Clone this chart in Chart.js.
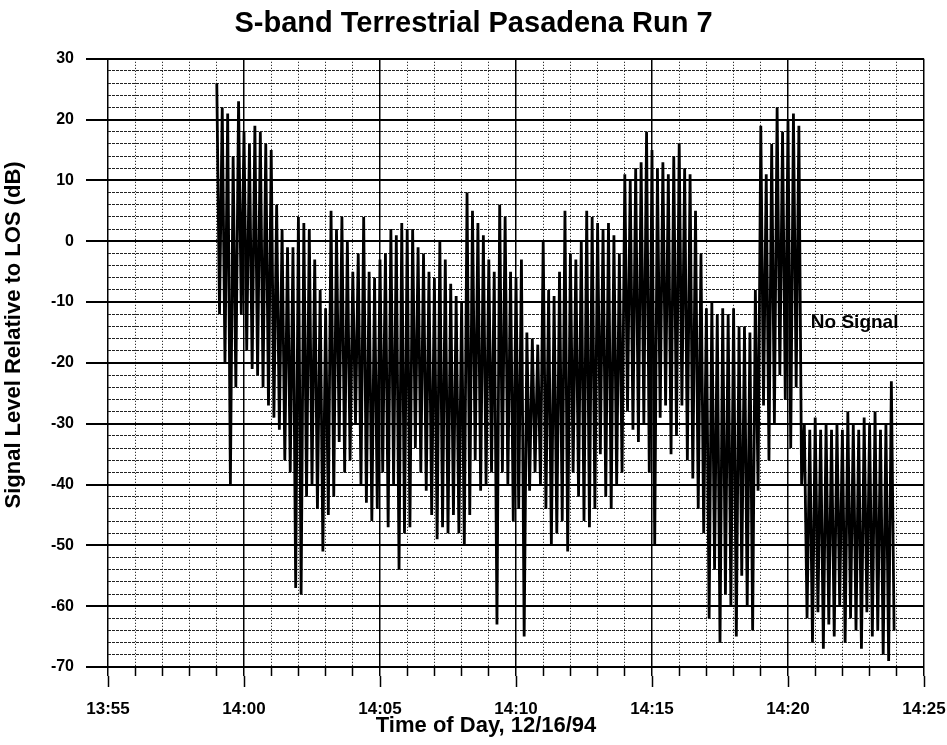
<!DOCTYPE html>
<html>
<head>
<meta charset="utf-8">
<script src="https://cdn.jsdelivr.net/npm/chart.js@4.4.1/dist/chart.umd.min.js"></script>
<style>
  html, body { margin: 0; padding: 0; background: #fff; }
  #chart { display: block; }
</style>
</head>
<body>
<canvas id="chart" width="947" height="745"></canvas>
<script>
// ── Data ───────────────────────────────────────────────────
const chartTitle = 'S-band Terrestrial Pasadena Run 7';
const xAxisTitle = 'Time of Day, 12/16/94';
const yAxisTitle = 'Signal Level Relative to LOS (dB)';
const timeLabels = ['13:55', '14:00', '14:05', '14:10', '14:15', '14:20', '14:25'];   // every 5 min
const noteText = 'No Signal';

// envelope of the trace, one pair per 0.2 min, starting 13:59:00 (minutes after 13:55)
const sampleStart = 4.0;
const sampleStep = 0.2;
const peaks = [
     26,  22,  21,  14,  23,  18,  16,  19,  18,  16,
     15,   6,   2,  -1,  -1,   4,   3,   2,  -3,  -8,
    -11,   5,   2,   4,   0,  -5,  -2,   4,  -5,  -6,
     -3,  -2,   2,   1,   3,   2,   2,  -1,  -2,  -5,
     -6,   0,  -3,  -7,  -9, -10,   8,   5,   3,   1,
     -3,  -5,   6,   4,  -5,  -6,  -3, -15, -16, -17,
      0,  -8,  -9,  -5,   5,  -2,  -3,   0,   5,   4,
      3,   2,   3,   1,  -2,  11,  10,  12,  13,  18,
     15,  12,  13,  11,  14,  16,  12,  11,   5,  -2,
    -11, -10, -12, -11, -12, -11, -14, -14, -15,  -8,
     19,  11,  16,  22,  18,  20,  21,  19, -30, -31,
    -29, -31, -30, -31, -30, -31, -28, -30, -31, -29,
    -30, -28, -31, -30, -23
];
const troughs = [
    -12, -20, -40, -24, -12, -18, -21, -22, -24, -27,
    -29, -31, -36, -38, -57, -58, -42, -40, -44, -51,
    -45, -42, -33, -38, -36, -30, -40, -43, -46, -44,
    -38, -47, -40, -54, -48, -47, -34, -38, -41, -45,
    -49, -47, -48, -45, -48, -50, -45, -36, -41, -40,
    -38, -63, -38, -40, -46, -44, -65, -41, -38, -40,
    -44, -50, -48, -46, -51, -38, -42, -46, -47, -44,
    -35, -42, -44, -40, -38, -28, -31, -33, -30, -38,
    -50, -29, -27, -35, -32, -27, -36, -39, -44, -48,
    -62, -54, -66, -58, -60, -65, -55, -60, -64, -41,
    -27, -36, -30, -22, -26, -34, -24, -40, -62, -66,
    -61, -67, -63, -65, -60, -66, -62, -64, -67, -61,
    -65, -64, -68, -69, -64
];

const FONT = "'Liberation Sans', Arial, Helvetica, sans-serif";

// zig-zag trace: peak then trough for each sample
const tracePoints = [];
peaks.forEach((p, i) => {
    const t = sampleStart + i * sampleStep;
    tracePoints.push({ x: t, y: p });
    tracePoints.push({ x: t + sampleStep / 2, y: troughs[i] });
});

// ── Text plugin (axis titles + note) ───────────────────────
const textPlugin = {
    id: 'textPlugin',
    afterDraw(chart) {
        const { ctx, scales } = chart;
        ctx.save();
        ctx.fillStyle = '#000';
        ctx.textAlign = 'center';
        ctx.textBaseline = 'middle';

        ctx.font = `bold 22px ${FONT}`;
        ctx.fillText(xAxisTitle, scales.x.getPixelForValue(13.9), 726);

        ctx.save();
        ctx.translate(14, scales.y.getPixelForValue(-15.4));
        ctx.rotate(-Math.PI / 2);
        ctx.fillText(yAxisTitle, 0, 0);
        ctx.restore();

        ctx.font = `bold 19px ${FONT}`;
        ctx.fillText(noteText, scales.x.getPixelForValue(27.45), scales.y.getPixelForValue(-13.4));
        ctx.restore();
    }
};

// ── Chart ──────────────────────────────────────────────────
Chart.defaults.color = '#000';
Chart.defaults.font.family = FONT;

const isMajorY = c => c.tick && c.tick.value % 10 === 0;
const isMajorX = c => c.tick && c.tick.value % 5 === 0;

new Chart(document.getElementById('chart'), {
    type: 'line',
    data: {
        datasets: [{
            data: tracePoints,
            borderColor: '#000',
            borderWidth: 2.8,
            borderJoinStyle: 'bevel',
            pointRadius: 0,
            tension: 0,
            fill: false
        }]
    },
    options: {
        responsive: false,
        animation: false,
        devicePixelRatio: 1,
        layout: { padding: 0 },
        plugins: {
            legend: { display: false },
            tooltip: { enabled: false },
            title: {
                display: true,
                text: chartTitle,
                color: '#000',
                font: { size: 29, weight: 'bold', family: FONT },
                padding: { top: 7, bottom: 17 }
            }
        },
        scales: {
            x: {
                type: 'linear',
                position: 'bottom',
                min: 0, max: 30,
                weight: 0,
                ticks: { stepSize: 1, display: false },
                grid: {
                    color: '#000',
                    lineWidth: c => isMajorX(c) ? 1.5 : 1,
                    tickLength: 9,
                    tickColor: '#000',
                    tickWidth: 1.5
                },
                border: {
                    display: false,
                    dash: c => (c.tick && !isMajorX(c)) ? [1, 2] : []
                },
                afterFit: s => { s.height = 9; s.paddingLeft = 0; s.paddingRight = 23; }
            },
            xLab: {
                type: 'linear',
                position: 'bottom',
                min: 0, max: 30,
                weight: 1,
                ticks: {
                    stepSize: 5,
                    padding: 12,
                    font: { size: 17, weight: 'bold' },
                    callback: v => timeLabels[v / 5] ?? ''
                },
                grid: {
                    drawOnChartArea: false,
                    tickLength: 11,
                    tickColor: '#000',
                    tickWidth: 1.5
                },
                border: { display: false },
                afterFit: s => { s.height = 69; s.paddingLeft = 0; s.paddingRight = 23; }
            },
            y: {
                type: 'linear',
                min: -70, max: 30,
                ticks: {
                    stepSize: 2,
                    autoSkip: false,
                    padding: 12,
                    font: { size: 16, weight: 'bold' },
                    callback: v => v % 10 === 0 ? String(v) : ''
                },
                grid: {
                    color: c => isMajorY(c) ? '#000' : '#222',
                    lineWidth: c => isMajorY(c) ? 2 : 1,
                    tickLength: 22,
                    tickColor: c => isMajorY(c) ? '#000' : 'rgba(0,0,0,0)',
                    tickWidth: 2
                },
                border: {
                    display: false,
                    dash: c => (c.tick && !isMajorY(c)) ? [3, 1] : []
                },
                afterFit: s => { s.width = 108; }
            }
        }
    },
    plugins: [textPlugin]
});
</script>
</body>
</html>
